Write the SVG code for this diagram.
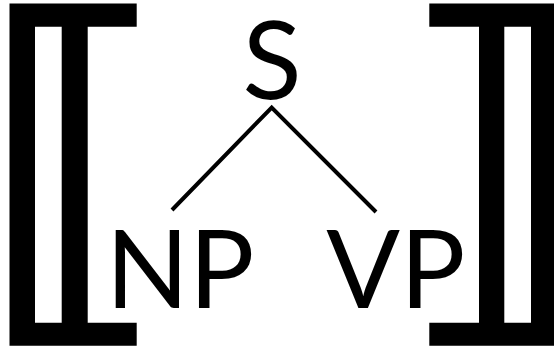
<svg xmlns="http://www.w3.org/2000/svg" width="554" height="348" viewBox="0 0 554 348">
  <style>
    .lbl { font-family: Lato, "Open Sans", "Liberation Sans", sans-serif; font-size: 109px; fill: #000; }
    .edge { stroke: #000; stroke-width: 4; fill: none; stroke-linecap: butt; }
    .br { fill: #000; fill-rule: evenodd; }
  </style>
  <rect width="554" height="348" fill="#fff"/>
  <g id="brackets">
    <path id="bracket-left" class="br" d="M9.5,3.5 H136.7 V26.7 H87.7 V322.7 H136.7 V345.7 H9.5 Z M35,26.7 V322.7 H61.7 V26.7 Z"/>
    <path id="bracket-right" class="br" d="M429.3,3.5 H556 V345.7 H429.3 V322.7 H479 V26.7 H429.3 Z M504.3,26.7 V322.7 H531 V26.7 Z"/>
  </g>
  <g id="connectors">
    <path class="edge" d="M172,210 L271.7,107.5 L376,212"/>
  </g>
  <g id="node-S">
    <text class="lbl" x="272" y="98.5" text-anchor="middle">S</text>
  </g>
  <g id="node-NP">
    <text class="lbl" x="180" y="308.3" text-anchor="middle">NP</text>
  </g>
  <g id="node-VP">
    <text class="lbl" x="395.8" y="308.3" text-anchor="middle">VP</text>
  </g>
</svg>
